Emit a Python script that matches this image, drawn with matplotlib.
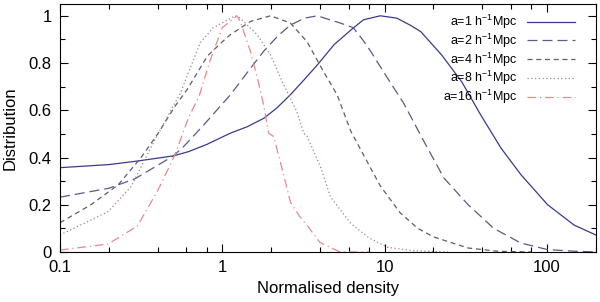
import matplotlib
matplotlib.use('Agg')
import matplotlib.pyplot as plt
from matplotlib.ticker import LogLocator, MultipleLocator, NullFormatter

plt.rcParams['font.family'] = ['Liberation Sans', 'DejaVu Sans']
plt.rcParams['mathtext.default'] = 'regular'

# values
x_a1 = [0.1, 0.2, 0.3, 0.5, 0.62, 0.8, 1.12, 1.42, 1.8, 2.17, 2.62, 3.2, 3.85, 4.87, 6.2, 7.4,
        9.4, 11.9, 14.4, 16.7, 22.4, 29.9, 39.1, 52.1, 69.4, 101, 147, 200]
y_a1 = [0.357, 0.37, 0.385, 0.407, 0.425, 0.455, 0.503, 0.53, 0.566, 0.61, 0.665, 0.73, 0.792,
        0.877, 0.94, 0.983, 1.0, 0.99, 0.96, 0.933, 0.835, 0.72, 0.58, 0.44, 0.326, 0.2, 0.114,
        0.072]

x_a2 = [0.1, 0.2, 0.29, 0.5, 0.575, 0.75, 1.12, 1.5, 1.8, 2.2, 2.62, 3.2, 3.85, 4.5, 5.3, 6.4,
        7.3, 8.2, 10.4, 13.1, 17.5, 23.2, 32.7, 47, 69, 101, 150, 200]
y_a2 = [0.232, 0.27, 0.31, 0.407, 0.445, 0.53, 0.665, 0.78, 0.85, 0.915, 0.96, 0.99, 1.0, 0.985,
        0.97, 0.95, 0.9, 0.85, 0.737, 0.63, 0.467, 0.313, 0.2, 0.1, 0.038, 0.01, 0.003, 0.0]

x_a4 = [0.1, 0.155, 0.228, 0.316, 0.40, 0.51, 0.61, 0.81, 1.0, 1.12, 1.49, 1.98, 2.62, 3.33,
        4.2, 5.1, 6.2, 7.7, 9.4, 10.9, 12.5, 16, 20, 32.6, 50, 80]
y_a4 = [0.124, 0.20, 0.284, 0.40, 0.50, 0.616, 0.69, 0.83, 0.89, 0.92, 0.976, 1.0, 0.97, 0.89,
        0.764, 0.665, 0.51, 0.39, 0.28, 0.22, 0.165, 0.10, 0.064, 0.017, 0.003, 0.0]

x_a8 = [0.1, 0.198, 0.274, 0.384, 0.51, 0.55, 0.73, 0.88, 1.0, 1.2, 1.29, 1.64, 1.98, 2.38,
        2.88, 3.17, 3.33, 4.03, 4.63, 6.2, 8.0, 10.4, 15, 25]
y_a8 = [0.072, 0.171, 0.277, 0.475, 0.63, 0.67, 0.885, 0.95, 0.97, 1.0, 0.99, 0.92, 0.835, 0.71,
        0.594, 0.503, 0.49, 0.36, 0.234, 0.12, 0.06, 0.02, 0.005, 0.0]

x_a16 = [0.1, 0.198, 0.30, 0.40, 0.51, 0.62, 0.72, 0.84, 1.0, 1.23, 1.29, 1.49, 1.64, 1.8, 1.93,
         2.07, 2.34, 2.63, 3.0, 3.35, 4.0, 5.3, 8.0]
y_a16 = [0.008, 0.034, 0.11, 0.26, 0.41, 0.57, 0.66, 0.81, 0.95, 1.0, 0.976, 0.85, 0.74, 0.62,
         0.503, 0.489, 0.35, 0.21, 0.15, 0.11, 0.04, 0.0, 0.0]

labels = ['a=1 h$^{-1}$Mpc', 'a=2 h$^{-1}$Mpc', 'a=4 h$^{-1}$Mpc',
          'a=8 h$^{-1}$Mpc', 'a=16 h$^{-1}$Mpc']

fig = plt.figure(figsize=(6.0, 3.02), dpi=100)
ax = fig.add_axes([0.1, 0.1656, 0.893, 0.8212])

ax.plot(x_a1, y_a1, color='#3a3a8c', lw=0.9, ls='-', label=labels[0])
ax.plot(x_a2, y_a2, color='#5a5a88', lw=0.9, ls=(0, (8, 4)), label=labels[1])
ax.plot(x_a4, y_a4, color='#5e5e66', lw=0.9, ls=(0, (4, 3)), label=labels[2])
ax.plot(x_a8, y_a8, color='#a87d95', lw=0.9, ls=(0, (1, 2)), label=labels[3])
ax.plot(x_a16, y_a16, color='#e88a8a', lw=0.9, ls=(0, (7, 3, 1, 3)), label=labels[4])

ax.set_xscale('log')
ax.set_xlim(0.1, 200)
ax.set_ylim(0, 1.05)
ax.set_xticks([0.1, 1, 10, 100], ['0.1', '1', '10', '100'])
ax.xaxis.set_minor_locator(LogLocator(base=10, subs=(2, 4, 6, 8)))
ax.xaxis.set_minor_formatter(NullFormatter())
ax.set_yticks([0, 0.2, 0.4, 0.6, 0.8, 1.0], ['0', '0.2', '0.4', '0.6', '0.8', '1'])
ax.yaxis.set_minor_locator(MultipleLocator(0.1))
ax.tick_params(which='both', direction='in', top=True, right=True, labelsize=12, width=0.8)
ax.tick_params(which='major', length=6)
ax.tick_params(axis='x', which='major', pad=6)
ax.tick_params(axis='y', which='major', pad=6)
ax.tick_params(which='minor', length=3.5)

ax.set_xlabel('Normalised density', fontsize=12, labelpad=4)
ax.set_ylabel('Distribution', fontsize=12, labelpad=8)

ax.legend(loc='upper right', bbox_to_anchor=(0.970, 0.985), frameon=False, fontsize=9,
          markerfirst=False, handlelength=3.8, handletextpad=0.8, labelspacing=0.05,
          borderaxespad=0)

fig.savefig('out.png', dpi=100)
